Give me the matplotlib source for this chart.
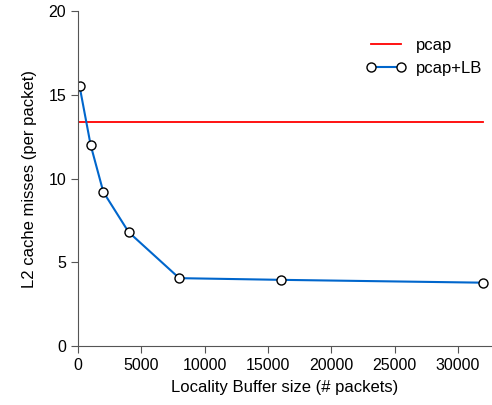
import matplotlib
matplotlib.use("Agg")
import matplotlib.pyplot as plt

# buffer sizes (# packets) and L2 misses per packet
buf_sizes = [128, 1000, 2000, 4000, 8000, 16000, 32000]
misses_lb = [15.5, 12.0, 9.2, 6.8, 4.05, 3.95, 3.78]
misses_pcap = 13.4

plt.rcParams['font.family'] = ['Liberation Sans', 'DejaVu Sans']

fig = plt.figure(figsize=(4.92, 4.05), dpi=100)
ax = fig.add_axes([0.1585, 0.1457, 0.8415, 0.8271])

ax.plot([0, buf_sizes[-1]], [misses_pcap, misses_pcap], color='#ff0000', lw=1.3, label='pcap')
ax.plot(buf_sizes, misses_lb, color='#0066cc', lw=1.5, marker='o', ms=6.5,
        mfc='white', mec='black', mew=1.0, label='pcap+LB')

ax.set_xlim(0, 32700)
ax.set_ylim(0, 20)
ax.set_xticks([0, 5000, 10000, 15000, 20000, 25000, 30000])
ax.set_yticks([0, 5, 10, 15, 20])
ax.set_xlabel('Locality Buffer size (# packets)', fontsize=12, labelpad=5)
ax.set_ylabel('L2 cache misses (per packet)', fontsize=12, labelpad=8)
ax.tick_params(labelsize=11.5, direction='out', length=5, color='#555555')

for s in ['top', 'right']:
    ax.spines[s].set_visible(False)
for s in ['left', 'bottom']:
    ax.spines[s].set_color('#555555')

ax.legend(loc='upper right', bbox_to_anchor=(1.0, 0.95), frameon=False, fontsize=12,
          handlelength=2.4, handletextpad=0.6, numpoints=2, borderaxespad=0.2)

fig.savefig('out.png', dpi=100)
